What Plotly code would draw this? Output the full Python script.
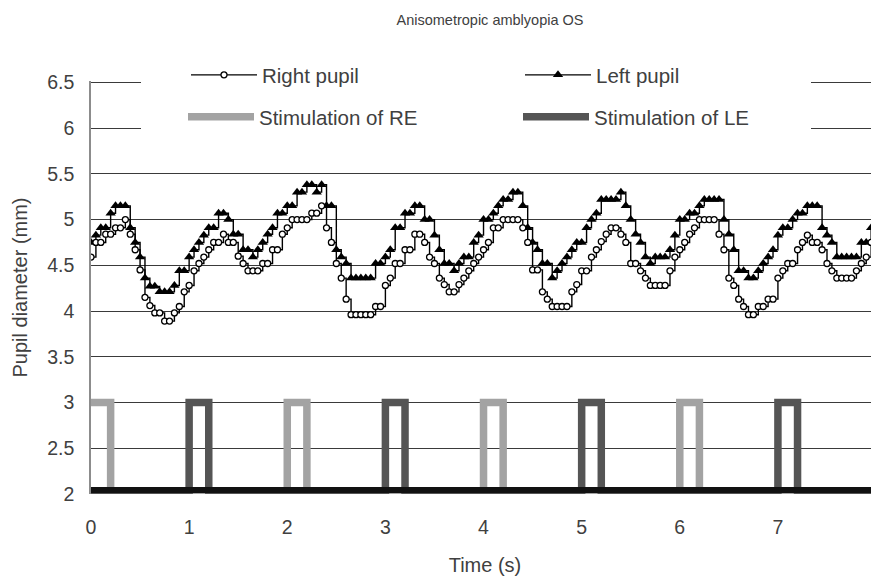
import plotly.graph_objects as go

# ---------------- data ----------------
SAMPLE_INTERVAL_S = 0.05

right_pupil = [
    4.59, 4.75, 4.75, 4.84, 4.84, 4.91, 4.91, 5.00, 4.84, 4.67, 4.45, 4.15, 4.06, 3.98, 3.98, 3.89, 3.89, 3.98, 4.05, 4.21,
    4.28, 4.44, 4.52, 4.59, 4.67, 4.75, 4.75, 4.84, 4.75, 4.75, 4.60, 4.52, 4.44, 4.44, 4.44, 4.52, 4.52, 4.67, 4.67, 4.84,
    4.91, 5.00, 5.00, 5.00, 5.00, 5.07, 5.07, 5.15, 4.91, 4.75, 4.52, 4.36, 4.13, 3.96, 3.96, 3.96, 3.96, 3.96, 4.05, 4.05,
    4.28, 4.36, 4.52, 4.52, 4.67, 4.67, 4.84, 4.84, 4.75, 4.59, 4.52, 4.36, 4.29, 4.21, 4.21, 4.29, 4.36, 4.44, 4.52, 4.59,
    4.67, 4.75, 4.91, 4.91, 5.00, 5.00, 5.00, 5.00, 4.91, 4.75, 4.45, 4.45, 4.21, 4.13, 4.05, 4.05, 4.05, 4.05, 4.21, 4.29,
    4.44, 4.44, 4.59, 4.67, 4.76, 4.84, 4.91, 4.91, 4.84, 4.75, 4.52, 4.52, 4.44, 4.36, 4.28, 4.28, 4.28, 4.28, 4.44, 4.59,
    4.67, 4.75, 4.84, 4.91, 5.00, 5.00, 5.00, 5.00, 4.84, 4.67, 4.36, 4.28, 4.13, 4.05, 3.96, 3.96, 4.05, 4.05, 4.13, 4.13,
    4.36, 4.44, 4.52, 4.52, 4.67, 4.75, 4.83, 4.75, 4.75, 4.67, 4.52, 4.44, 4.36, 4.36, 4.36, 4.36, 4.44, 4.52, 4.59, 4.75,
    4.83,
]

left_pupil = [
    4.75, 4.83, 4.91, 4.91, 5.07, 5.15, 5.15, 5.15, 4.91, 4.75, 4.59, 4.36, 4.27, 4.27, 4.21, 4.21, 4.21, 4.28, 4.44, 4.44,
    4.59, 4.67, 4.75, 4.83, 4.91, 4.91, 5.07, 5.07, 5.00, 4.84, 4.84, 4.67, 4.67, 4.59, 4.67, 4.75, 4.84, 4.91, 5.07, 5.07,
    5.15, 5.15, 5.30, 5.30, 5.38, 5.38, 5.30, 5.38, 5.15, 5.15, 4.67, 4.59, 4.52, 4.36, 4.36, 4.36, 4.36, 4.36, 4.52, 4.52,
    4.59, 4.67, 4.91, 4.91, 5.07, 5.07, 5.15, 5.15, 5.00, 5.00, 4.83, 4.67, 4.52, 4.52, 4.44, 4.52, 4.59, 4.59, 4.75, 4.83,
    5.00, 5.00, 5.07, 5.15, 5.22, 5.22, 5.30, 5.30, 5.15, 4.91, 4.75, 4.67, 4.52, 4.52, 4.36, 4.44, 4.52, 4.59, 4.67, 4.75,
    4.75, 4.91, 5.00, 5.07, 5.22, 5.22, 5.22, 5.22, 5.30, 5.15, 5.00, 4.84, 4.75, 4.59, 4.52, 4.59, 4.59, 4.59, 4.67, 4.83,
    5.00, 5.00, 5.07, 5.07, 5.15, 5.22, 5.22, 5.22, 5.22, 5.00, 4.84, 4.67, 4.44, 4.44, 4.36, 4.36, 4.44, 4.52, 4.59, 4.67,
    4.83, 4.91, 4.91, 5.00, 5.07, 5.07, 5.15, 5.15, 5.15, 4.91, 4.83, 4.75, 4.59, 4.59, 4.59, 4.59, 4.59, 4.75, 4.75, 4.91,
    5.07,
]

# stimulation square waves: switch times (s) and level held after each switch
re_switch_times = [0.0, 0.2, 2.0, 2.2, 4.0, 4.2, 6.0, 6.2, 8.03]
re_levels = [3, 2, 3, 2, 3, 2, 3, 2, 2]
le_switch_times = [0.0, 1.0, 1.2, 3.0, 3.2, 5.0, 5.2, 7.0, 7.2, 8.03]
le_levels = [2, 3, 2, 3, 2, 3, 2, 3, 2, 2]

x_tick_values = [0, 1, 2, 3, 4, 5, 6, 7]
y_tick_values = [2, 2.5, 3, 3.5, 4, 4.5, 5, 5.5, 6, 6.5]
y_tick_labels = ["2", "2.5", "3", "3.5", "4", "4.5", "5", "5.5", "6", "6.5"]

time_s = [round(i * SAMPLE_INTERVAL_S, 2) for i in range(len(right_pupil))]

# ---------------- figure ----------------
FONT = "Liberation Sans, Arial, sans-serif"
TXT = "#404040"

fig = go.Figure()

fig.add_trace(go.Scatter(
    x=re_switch_times, y=re_levels, mode="lines", line_shape="hv",
    name="Stimulation of RE", legend="legend2", legendrank=1,
    line=dict(color="#a3a3a3", width=7.5),
))
fig.add_trace(go.Scatter(
    x=le_switch_times, y=le_levels, mode="lines", line_shape="hv",
    name="Stimulation of LE", legend="legend2", legendrank=2,
    line=dict(color="#555555", width=7.5),
))
fig.add_trace(go.Scatter(
    x=time_s, y=left_pupil, mode="lines+markers", line_shape="hv",
    name="Left pupil", legend="legend", legendrank=2,
    line=dict(color="#000000", width=1.4),
    marker=dict(symbol="triangle-up", size=9, color="#000000"),
))
fig.add_trace(go.Scatter(
    x=time_s, y=right_pupil, mode="lines+markers", line_shape="hv",
    name="Right pupil", legend="legend", legendrank=1,
    line=dict(color="#000000", width=1.4),
    marker=dict(symbol="circle", size=6, color="#ffffff",
                line=dict(color="#000000", width=1.3)),
))

# figure sits 8 px inside the page (default body margin)
W, H = 871, 571
PLOT_L, PLOT_R, PLOT_T, PLOT_B = 83, 871, 73, 486
pw, ph = PLOT_R - PLOT_L, PLOT_B - PLOT_T


def px_x(px):
    return (px - PLOT_L) / pw


def px_y(py):
    return (PLOT_B - py) / ph


legend_common = dict(
    orientation="h", xanchor="left", yanchor="middle",
    font=dict(family=FONT, size=20.5, color=TXT),
    bgcolor="rgba(0,0,0,0)", itemwidth=66, entrywidthmode="pixels",
)

fig.update_layout(
    width=W, height=H,
    margin=dict(l=PLOT_L, r=W - PLOT_R, t=PLOT_T, b=H - PLOT_B, autoexpand=False),
    paper_bgcolor="#ffffff", plot_bgcolor="#ffffff",
    font=dict(family=FONT, size=20, color=TXT),
    title=dict(text="Anisometropic amblyopia OS", x=482 / W, xanchor="center",
               y=1 - 12 / H, yanchor="middle", xref="container", yref="container",
               font=dict(family=FONT, size=14.5, color=TXT)),
    legend=dict(legend_common, x=px_x(178), y=px_y(67), entrywidth=253),
    legend2=dict(legend_common, x=px_x(175), y=px_y(109), entrywidth=254),
    xaxis=dict(
        range=[0, 8.03], tickvals=x_tick_values, showgrid=False, zeroline=False,
        showline=True, linecolor="#111111", linewidth=6,
        anchor="free", position=4 / ph,
        ticks="", ticklabelstandoff=18,
        tickfont=dict(family=FONT, size=19.5, color=TXT),
        title=dict(text="Time (s)", standoff=20, font=dict(family=FONT, size=20, color=TXT)),
    ),
    yaxis=dict(
        range=[2, 6.515], tickvals=y_tick_values, ticktext=y_tick_labels,
        showgrid=True, gridcolor="#3a3a3a", gridwidth=1.3, zeroline=False,
        showline=True, linecolor="#8c8c8c", linewidth=1.5,
        ticks="", ticklabelstandoff=11,
        tickfont=dict(family=FONT, size=19.5, color=TXT),
        title=dict(text="Pupil diameter (mm)", standoff=14, font=dict(family=FONT, size=20, color=TXT)),
    ),
    shapes=[dict(type="rect", xref="paper", yref="paper",
                 x0=px_x(133), x1=px_x(803), y0=px_y(132), y1=px_y(54),
                 fillcolor="#ffffff", line=dict(width=0), layer="above")],
)

fig.write_html("out.html")
